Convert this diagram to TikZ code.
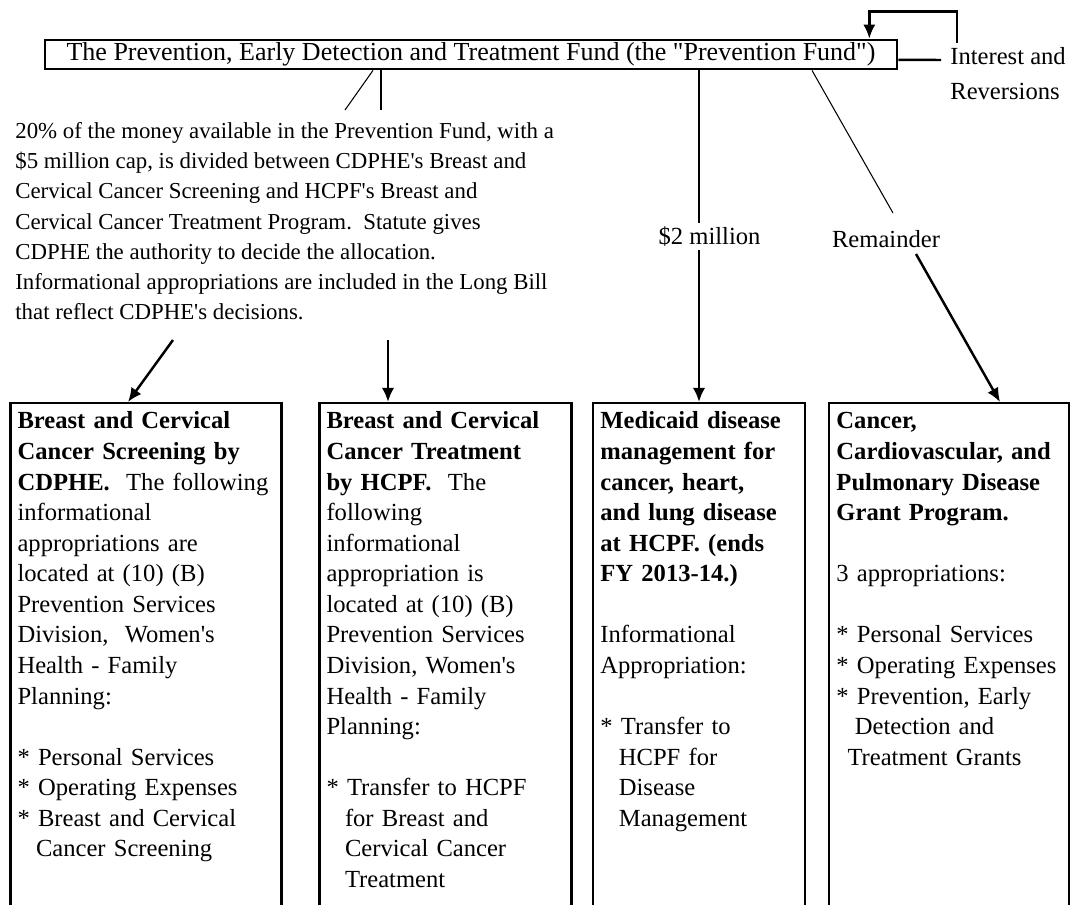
\documentclass[tikz,border=0pt]{standalone}
\usepackage{fontspec}
\setmainfont{Liberation Serif}
\usepackage{tikz}
\usetikzlibrary{calc, arrows.meta, positioning}

\newcommand{\contline}{\hspace*{0.75em}}
\newcommand{\apos}{\textquotesingle}

\begin{document}
\begin{tikzpicture}[x=0.02cm, y=-0.02cm, >={Latex[length=8pt, width=7pt]}, font=\fontsize{14pt}{17.4pt}\selectfont]
 % We define the styles for the blocks, the arrows and the labels
 \tikzset{
fundblock/.style = {draw, rectangle, line width=1.6pt, minimum width=17.04cm, minimum height=0.58cm, inner sep=0pt, font=\fontsize{14.8pt}{17.4pt}\selectfont},
progblock/.style = {draw, rectangle, line width=1.2pt, anchor=north, align=left, inner xsep=4pt, inner ysep=4.7pt, text height=10pt, text depth=10cm},
line/.style = {draw, ->, line width=1.4pt},
link/.style = {draw, line width=1.4pt},
thinline/.style = {draw, line width=0.6pt},
lbl/.style = {fill=white, inner sep=2pt},
}
 \useasboundingbox (0,0) rectangle (1073,904);
 \clip (0,0) rectangle (1073,904);

 % Fund block, with interest and reversions going back into it
 \node [fundblock] (fund) at (471,54.5) {The Prevention, Early Detection and Treatment Fund (the \textquotedbl Prevention Fund\textquotedbl)};
 \node [anchor=north west, align=left, inner sep=0pt, font=\fontsize{14pt}{20pt}\selectfont] (interest) at (950,47) {Interest and\\Reversions};
 \draw [link] ([yshift=-3pt]fund.east) -- ($(fund.east -| interest.west)+(-9,5.5)$);
 \draw [line] ([xshift=4pt, yshift=2pt]interest.north west) -- ++(0,-32) -| ($(fund.north east)+(-29,0)$);

 % Share for the breast and cervical cancer programs
 \node [anchor=north west, align=left, inner sep=0pt, font=\fontsize{13pt}{17.2pt}\selectfont] (share) at (15,122) {20\% of the money available in the Prevention Fund, with a\\\$5 million cap, is divided between CDPHE\apos s Breast and\\Cervical Cancer Screening and HCPF\apos s Breast and\\Cervical Cancer Treatment Program.\ \ Statute gives\\CDPHE the authority to decide the allocation.\\Informational appropriations are included in the Long Bill\\that reflect CDPHE\apos s decisions.};
 \draw [thinline] ($(fund.south)+(-98,0)$) -- ($(share.north west)+(330,-12)$);
 \draw [link] ($(fund.south)+(-90,0)$) -- ($(share.north west)+(366,-12)$);

 % Program blocks
 \node [progblock, text width=146.2pt] (screen) at (146,402) {{\bfseries Breast and Cervical\\Cancer Screening by\\CDPHE.}\ \ The following\\informational\\appropriations are\\located at (10) (B)\\Prevention Services\\Division,\ \ Women\apos s\\Health - Family\\Planning:\\[17.4pt]{*} Personal Services\\{*} Operating Expenses\\{*} Breast and Cervical\\\contline Cancer Screening};
 \node [progblock, text width=135.4pt] (treat) at (445.5,402) {{\bfseries Breast and Cervical\\Cancer Treatment\\by HCPF.}\ \ The\\following\\informational\\appropriation is\\located at (10) (B)\\Prevention Services\\Division, Women\apos s\\Health - Family\\Planning:\\[17.4pt]{*} Transfer to HCPF\\\contline for Breast and\\\contline Cervical Cancer\\\contline Treatment};
 \node [progblock, text width=112.2pt] (disease) at (699,402) {{\bfseries Medicaid disease\\management for\\cancer, heart,\\and lung disease\\at HCPF. (ends\\FY 2013-14.)}\\[17.4pt]Informational\\Appropriation:\\[17.4pt]{*} Transfer to\\\contline HCPF for\\\contline Disease\\\contline Management};
 \node [progblock, text width=128.1pt] (grant) at (949,402) {{\bfseries Cancer,\\Cardiovascular, and\\Pulmonary Disease\\Grant Program.}\\[17.4pt]3 appropriations:\\[17.4pt]{*} Personal Services\\{*} Operating Expenses\\{*} Prevention, Early\\\contline Detection and\\\hspace*{0.45em}Treatment Grants};

 % Arrows into the program blocks
 \draw [line] ($(screen.north)+(27,-62)$) -- ($(screen.north)+(-18,0)$);
 \draw [line] ($(treat.north)+(-57.5,-62)$) -- ($(treat.north)+(-57.5,0)$);
 \draw [line] (fund.south -| disease.north) -- node [lbl, xshift=6pt] (twomil) {\$2 million} (disease.north);
 \draw [thinline] ($(fund.south)+(341,0)$) -- ($(grant.north)+(-56,-189)$);
 \draw [line] ($(grant.north)+(-33,-148)$) -- ($(grant.north)+(51,0)$);
 \node [lbl] (remainder) at (886,239) {Remainder};

\end{tikzpicture}
\end{document}
